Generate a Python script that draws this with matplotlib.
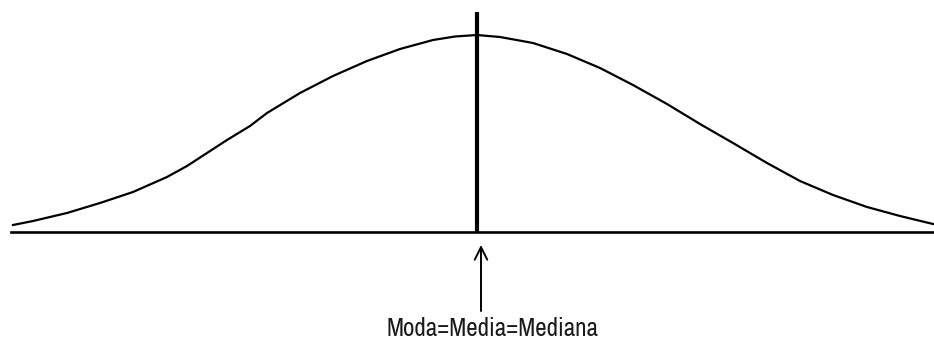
import matplotlib
matplotlib.use("Agg")
import matplotlib.pyplot as plt
from matplotlib import font_manager

# Curve: horizontal positions and heights above the baseline
curve_x = [13, 33, 67, 100, 133, 167, 187, 207, 227, 250, 267, 300, 333, 367, 400, 433, 455,
           477, 500, 533, 567, 600, 633, 667, 700, 733, 767, 800, 833, 867, 900, 933]
curve_h = [7, 11, 19, 29, 40, 55, 66, 79, 92, 106, 119, 139, 156, 171, 183, 192, 195.5,
           197, 195, 189, 178, 164, 147, 128, 108, 89, 69, 51, 37, 25, 16, 8]

center_x = 477          # mode = mean = median
line_top = 220          # top of the vertical line
label = "Moda=Media=Mediana"

names = {f.name for f in font_manager.fontManager.ttflist}
prefs = ["Liberation Sans Narrow", "Arial Narrow", "Archivo Narrow", "PT Sans Narrow",
         "Roboto Condensed", "Liberation Sans", "DejaVu Sans"]
fam = [n for n in prefs if n in names] or ["DejaVu Sans"]

fig = plt.figure(figsize=(9.34, 3.40), dpi=100)
ax = fig.add_axes([0, 0, 1, 1])
ax.set_xlim(0, 934)
ax.set_ylim(-108, 232)
ax.axis("off")

ax.plot(curve_x, curve_h, color="black", lw=1.6, solid_joinstyle="round")
ax.plot([11, 934], [0, 0], color="black", lw=1.9)
ax.plot([center_x, center_x], [0, line_top], color="black", lw=3.0, solid_capstyle="butt")

ax.annotate("", xy=(481, -13), xytext=(481, -79),
            arrowprops=dict(arrowstyle="->,head_length=0.9,head_width=0.45",
                            color="black", lw=1.4, shrinkA=0, shrinkB=0))
t = ax.text(492, -104, label, ha="center", va="baseline", fontsize=18,
            family=fam, color="#1a1a1a")

# fit the label to the width it has in the reference (about 212 px)
fig.canvas.draw()
w = t.get_window_extent(fig.canvas.get_renderer()).width
t.set_fontsize(18 * 212.0 / w)

fig.savefig("out.png", dpi=100)
